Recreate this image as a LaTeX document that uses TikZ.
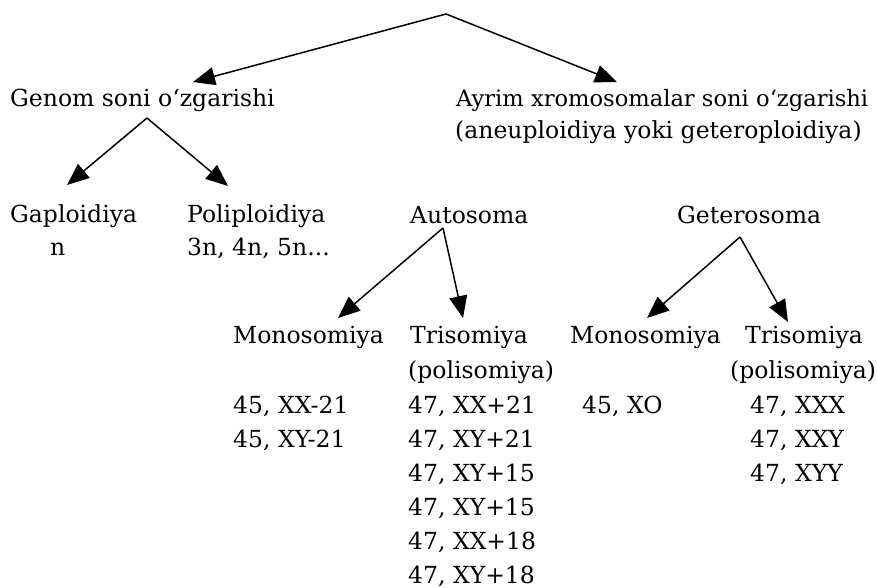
\documentclass[tikz,border=0pt]{standalone}
\usepackage{fontspec}
\setmainfont{DejaVu Serif}
\usetikzlibrary{arrows.meta}
\begin{document}
\begin{tikzpicture}[x=1pt,y=-1pt,
  lbl/.style={anchor=base west,inner sep=0pt,font=\fontsize{23.5}{28}\selectfont},
  arr/.style={line width=1.5pt,-{Triangle[length=22pt,width=18pt]}}]
\useasboundingbox (0,0) rectangle (877,588);
% top level
\node[lbl] (genom) at (10,107) {Genom soni o‘zgarishi};
\node[lbl,font=\fontsize{22.6}{27}\selectfont] (ayrim) at (456,107) {Ayrim xromosomalar soni o‘zgarishi};
\node[lbl] (ayrimb) at (455,139) {(aneuploidiya yoki geteroploidiya)};
% genome level
\node[lbl] (gap) at (10,222) {Gaploidiya};
\node[lbl] (gapn) at (50,255) {n};
\node[lbl] (poli) at (187,222) {Poliploidiya};
\node[lbl] (polin) at (187,255) {3n, 4n, 5n...};
\node[lbl] (auto) at (410,223) {Autosoma};
\node[lbl] (get) at (677,223) {Geterosoma};
% autosome level
\node[lbl] (monoA) at (233,343) {Monosomiya};
\node[lbl] (triA) at (410,343) {Trisomiya};
\node[lbl] (polA) at (408,378) {(polisomiya)};
\node[lbl] (mA1) at (233,413) {45, XX-21};
\node[lbl] (mA2) at (233,447) {45, XY-21};
\node[lbl] (tA1) at (408,413) {47, XX+21};
\node[lbl] (tA2) at (408,447) {47, XY+21};
\node[lbl] (tA3) at (408,481) {47, XY+15};
\node[lbl] (tA4) at (408,515) {47, XY+15};
\node[lbl] (tA5) at (408,549) {47, XX+18};
\node[lbl] (tA6) at (408,583) {47, XY+18};
% heterosome level
\node[lbl] (monoG) at (570,343) {Monosomiya};
\node[lbl] (mG1) at (582,413) {45, XO};
\node[lbl] (triG) at (745,343) {Trisomiya};
\node[lbl] (polG) at (730,378) {(polisomiya)};
\node[lbl] (tG1) at (750,413) {47, XXX};
\node[lbl] (tG2) at (750,447) {47, XXY};
\node[lbl] (tG3) at (750,481) {47, XYY};
% apexes
\coordinate (root) at (446,14);
\coordinate (apG) at (147,118);
\coordinate (apA) at (443,228);
\coordinate (apH) at (740,237);
% arrows
\draw[arr] (root) -- (193,82);
\draw[arr] (root) -- (617,82);
\draw[arr] (apG) -- (67,185);
\draw[arr] (apG) -- (228,186);
\draw[arr] (apA) -- (338,318);
\draw[arr] (apA) -- (463,318);
\draw[arr] (apH) -- (647,318);
\draw[arr] (apH) -- (788,322);
\end{tikzpicture}
\end{document}
